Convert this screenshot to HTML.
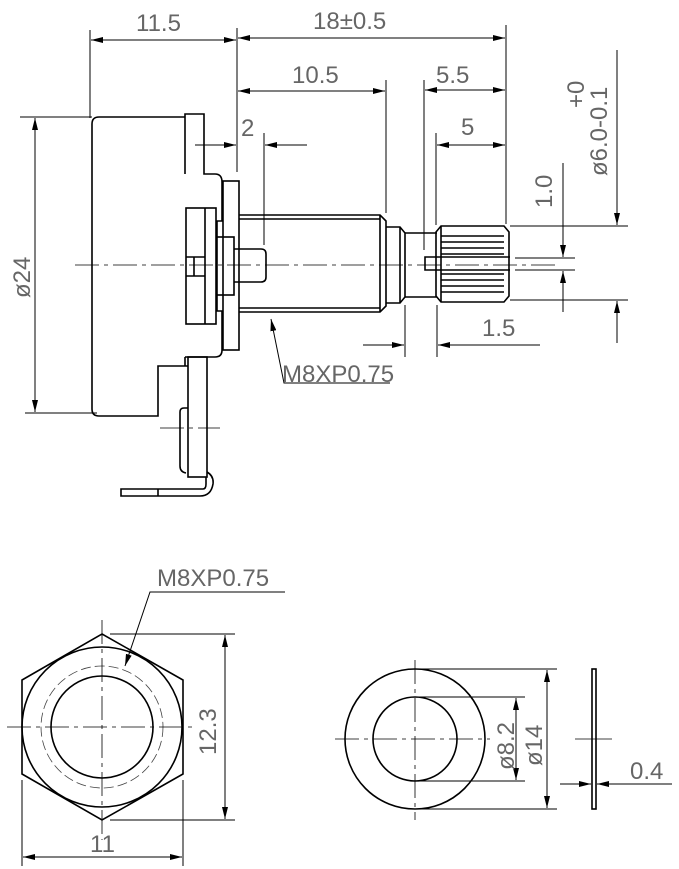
<!DOCTYPE html>
<html><head><meta charset="utf-8"><style>
html,body{margin:0;padding:0;background:#fff;}
svg{display:block;}
text{font-family:"Liberation Sans",sans-serif;fill:#666;font-size:24px;}
</style></head><body>
<svg width="679" height="869" viewBox="0 0 679 869" xmlns="http://www.w3.org/2000/svg">
<defs>
<marker id="a" viewBox="0 0 12 6" refX="12" refY="3" markerWidth="12" markerHeight="6" orient="auto-start-reverse" markerUnits="userSpaceOnUse"><path d="M0,0 L12,3 L0,6z" fill="#000"/></marker>
</defs>
<g fill="none" stroke="#000" stroke-width="1">
<line x1="90" y1="30" x2="90" y2="118"/>
<line x1="237" y1="28" x2="237" y2="172"/>
<line x1="91" y1="40" x2="236" y2="40" marker-start="url(#a)" marker-end="url(#a)"/>
<line x1="238" y1="38" x2="505" y2="38" marker-start="url(#a)" marker-end="url(#a)"/>
<line x1="506" y1="25" x2="506" y2="224"/>
<line x1="238" y1="91" x2="385" y2="91" marker-start="url(#a)" marker-end="url(#a)"/>
<line x1="386" y1="80" x2="386" y2="213"/>
<line x1="425" y1="90" x2="505" y2="90" marker-start="url(#a)" marker-end="url(#a)"/>
<line x1="424" y1="80" x2="424" y2="250"/>
<line x1="437" y1="145" x2="505" y2="145" marker-start="url(#a)" marker-end="url(#a)"/>
<line x1="436" y1="133" x2="436" y2="225"/>
<line x1="195" y1="145" x2="236" y2="145" marker-end="url(#a)"/>
<line x1="307" y1="145" x2="265" y2="145" marker-end="url(#a)"/>
<line x1="264" y1="133" x2="264" y2="245"/>
<line x1="20" y1="117" x2="92" y2="117"/>
<line x1="25" y1="413" x2="97" y2="413"/>
<line x1="35" y1="118" x2="35" y2="412" marker-start="url(#a)" marker-end="url(#a)"/>
<g stroke-width="1.6">
<path d="M185,117 H99 Q92,117 92,124 V409 Q92,416 99,416 H158 V366 H188"/>
<path d="M185,174 V114 H204 V174 H215 Q222,174 222,182 V221 H217 V237"/>
<path d="M185,357 V366 M185,357 H215 Q222,357 222,350 V311 H217 V295"/>
<rect x="223" y="181" width="16" height="169"/>
<rect x="186" y="208" width="30" height="116"/>
<path d="M205,208 V324 M186,257 H205 M186,276 H205 M194,257 V276"/>
<rect x="217" y="237" width="17" height="58"/>
<path d="M234,249 H261 Q266,249 266,254 V277 Q266,282 261,282 H234"/>
<rect x="188" y="357" width="19" height="120"/>
<path d="M188,408 H184 Q180,408 180,412 V466 Q180,472 186,473"/>
<path d="M207,472 Q214,476 213,484 Q211,496 200,496 H121 V489 H203 Q206,489 206,484 V477"/>
<line x1="158" y1="489" x2="158" y2="496"/>
<path d="M239,215 H380 L386,221 V306 L380,312 H239"/>
<path d="M239,219 H380 M239,308 H380 M380,215 V312"/>
<path d="M386,227 H400 L405,233 V297 L400,303 H386 M400,227 V303"/>
<path d="M405,233 H437 M405,297 H437"/>
<path d="M441,226 H504 L509,232 V296 L504,302 H441 L436,296 V232 Z"/>
<path d="M441,226 V302"/>
<path d="M441,236 H504 M441,242 H504 M441,248 H504 M441,254 H504 M441,274 H504 M441,280 H504 M441,286 H504 M441,292 H504"/>
<path d="M510,257 H425 V270 H510"/>
</g>
<line x1="75" y1="265" x2="560" y2="265" stroke-dasharray="24,5,4,5" stroke-width="0.8"/>
<line x1="160" y1="428" x2="220" y2="428" stroke-dasharray="24,5,4,5" stroke-width="0.8"/>
<line x1="510" y1="226" x2="628" y2="226"/>
<line x1="510" y1="300" x2="628" y2="300"/>
<line x1="617" y1="50" x2="617" y2="225" marker-end="url(#a)"/>
<line x1="617" y1="343" x2="617" y2="301" marker-end="url(#a)"/>
<line x1="515" y1="258" x2="575" y2="258"/>
<line x1="515" y1="270" x2="575" y2="270"/>
<line x1="563" y1="163" x2="563" y2="257" marker-end="url(#a)"/>
<line x1="563" y1="312" x2="563" y2="271" marker-end="url(#a)"/>
<line x1="405" y1="305" x2="405" y2="357"/>
<line x1="437" y1="305" x2="437" y2="357"/>
<line x1="363" y1="345" x2="404" y2="345" marker-end="url(#a)"/>
<line x1="540" y1="345" x2="438" y2="345" marker-end="url(#a)"/>
<polyline points="390,383 284,383 271,319" marker-end="url(#a)"/>
<g stroke-width="1.6">
<polygon points="102,634 183,680 183,774 102,820 22,774 22,680"/>
<circle cx="102" cy="727" r="80"/>
<circle cx="102" cy="727" r="51"/>
</g>
<circle cx="102" cy="727" r="61" stroke-dasharray="10,4" stroke-width="0.8" stroke="#444"/>
<line x1="7" y1="727" x2="195" y2="727" stroke-dasharray="24,5,4,5" stroke-width="0.8"/>
<line x1="102" y1="620" x2="102" y2="840" stroke-dasharray="24,5,4,5" stroke-width="0.8"/>
<line x1="110" y1="634" x2="235" y2="634"/>
<line x1="110" y1="820" x2="235" y2="820"/>
<line x1="225" y1="635" x2="225" y2="819" marker-start="url(#a)" marker-end="url(#a)"/>
<line x1="22" y1="780" x2="22" y2="866"/>
<line x1="183" y1="780" x2="183" y2="866"/>
<line x1="23" y1="857" x2="182" y2="857" marker-start="url(#a)" marker-end="url(#a)"/>
<polyline points="285,592 150,592 125,666" marker-end="url(#a)"/>
<g stroke-width="1.6">
<circle cx="415" cy="739" r="70"/>
<circle cx="415" cy="739" r="42"/>
<rect x="592" y="669" width="4" height="140"/>
</g>
<line x1="335" y1="739" x2="490" y2="739" stroke-dasharray="24,5,4,5" stroke-width="0.8"/>
<line x1="415" y1="660" x2="415" y2="820" stroke-dasharray="24,5,4,5" stroke-width="0.8"/>
<line x1="575" y1="739" x2="612" y2="739" stroke-width="0.8"/>
<line x1="415" y1="669" x2="557" y2="669"/>
<line x1="415" y1="809" x2="557" y2="809"/>
<line x1="415" y1="697" x2="525" y2="697"/>
<line x1="415" y1="781" x2="525" y2="781"/>
<line x1="547" y1="670" x2="547" y2="808" marker-start="url(#a)" marker-end="url(#a)"/>
<line x1="516" y1="698" x2="516" y2="780" marker-start="url(#a)" marker-end="url(#a)"/>
<line x1="560" y1="784" x2="591" y2="784" marker-end="url(#a)"/>
<line x1="672" y1="784" x2="597" y2="784" marker-end="url(#a)"/>
</g>
<text x="136" y="31">11.5</text>
<text x="313" y="29">18±0.5</text>
<text x="292" y="83">10.5</text>
<text x="436" y="83">5.5</text>
<text x="461" y="135">5</text>
<text x="241" y="136">2</text>
<text x="482" y="336">1.5</text>
<text x="282" y="382" font-size="21">M8XP0.75</text>
<text x="157" y="586" font-size="23">M8XP0.75</text>
<text x="90" y="852" font-size="22">11</text>
<text x="630" y="779" font-size="22">0.4</text>
<text transform="translate(30,298) rotate(-90)" font-size="24">ø24</text>
<text transform="translate(216,755) rotate(-90)" font-size="23">12.3</text>
<text transform="translate(514,770) rotate(-90)" font-size="22">ø8.2</text>
<text transform="translate(542,766) rotate(-90)" font-size="22">ø14</text>
<text transform="translate(552,208) rotate(-90)" font-size="22">1.0</text>
<text transform="translate(607,176) rotate(-90)" font-size="24">ø6.0</text>
<text transform="translate(607,128) rotate(-90)" font-size="19">-0.1</text>
<text transform="translate(584,108) rotate(-90)" font-size="19">+0</text>
</svg>
</body></html>
